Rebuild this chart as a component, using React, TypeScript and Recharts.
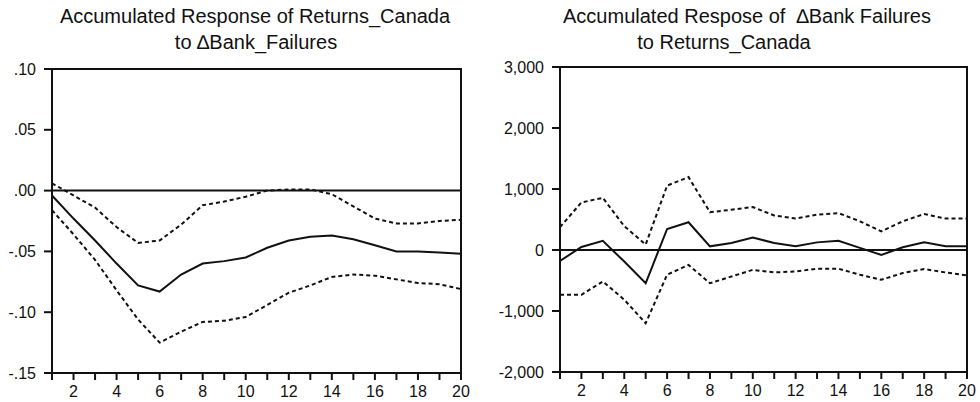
import React from "react";
import {
  LineChart,
  Line,
  XAxis,
  YAxis,
  ReferenceLine,
  ReferenceArea,
} from "recharts";

// forecast horizon (periods after the shock)
const periods = [1, 2, 3, 4, 5, 6, 7, 8, 9, 10, 11, 12, 13, 14, 15, 16, 17, 18, 19, 20];

// accumulated response of Returns_Canada to a ΔBank_Failures shock
const canadaIrf = [
  -0.004, -0.023, -0.041, -0.06, -0.078, -0.083, -0.069, -0.06, -0.058, -0.055,
  -0.047, -0.041, -0.038, -0.037, -0.04, -0.045, -0.05, -0.05, -0.051, -0.052,
];
const canadaUpper = [
  0.006, -0.004, -0.014, -0.03, -0.043, -0.041, -0.028, -0.012, -0.009, -0.005,
  0.0, 0.001, 0.001, -0.003, -0.013, -0.023, -0.027, -0.027, -0.025, -0.024,
];
const canadaLower = [
  -0.016, -0.036, -0.057, -0.082, -0.106, -0.125, -0.116, -0.108, -0.107, -0.104,
  -0.094, -0.084, -0.078, -0.071, -0.069, -0.07, -0.073, -0.076, -0.077, -0.081,
];

// accumulated response of ΔBank Failures to a Returns_Canada shock
const failuresIrf = [
  -180, 50, 150, -190, -545, 345, 455, 60, 115, 205,
  115, 60, 125, 150, 35, -80, 45, 125, 60, 60,
];
const failuresUpper = [
  375, 780, 855, 390, 90, 1055, 1195, 620, 660, 705,
  565, 515, 580, 605, 470, 305, 470, 590, 515, 515,
];
const failuresLower = [
  -735, -735, -515, -815, -1200, -405, -245, -545, -435, -325,
  -368, -352, -307, -307, -405, -488, -378, -312, -368, -417,
];

const canadaTicks = [-0.15, -0.1, -0.05, 0, 0.05, 0.1];
const failuresTicks = [-2000, -1000, 0, 1000, 2000, 3000];

const FONT = "'Liberation Sans', Arial, sans-serif";
const INK = "#111";

const canadaRows = periods.map((p, i) => ({
  period: p,
  irf: canadaIrf[i],
  upper: canadaUpper[i],
  lower: canadaLower[i],
}));

const failuresRows = periods.map((p, i) => ({
  period: p,
  irf: failuresIrf[i],
  upper: failuresUpper[i],
  lower: failuresLower[i],
}));

// EViews style: ".05", "-.10"
const fmtDecimal = (v: number) => {
  const s = Math.abs(v).toFixed(2).replace(/^0/, "");
  return v < 0 ? "-" + s : s;
};
const fmtThousands = (v: number) => v.toLocaleString("en-US");
const fmtPeriod = (v: number) => (v % 2 === 0 ? String(v) : "");

type PanelProps = {
  rows: any[];
  domain: [number, number];
  ticks: number[];
  fmt: (v: number) => string;
  yWidth: number;
  top: number;
  right: number;
  xHeight: number;
};

function IrfPanel({ rows, domain, ticks, fmt, yWidth, top, right, xHeight }: PanelProps) {
  const tickStyle = { fontSize: 16, fill: INK, fontFamily: FONT };
  return (
    <LineChart
      width={490}
      height={402}
      data={rows}
      margin={{ top, right, bottom: 0, left: 0 }}
    >
      <XAxis
        dataKey="period"
        type="number"
        domain={[1, 20]}
        allowDataOverflow
        ticks={periods}
        interval={0}
        tickFormatter={fmtPeriod}
        height={xHeight}
        tickSize={7}
        tickMargin={6}
        tick={tickStyle}
        stroke={INK}
        strokeWidth={2}
      />
      <YAxis
        type="number"
        domain={domain}
        allowDataOverflow
        ticks={ticks}
        interval={0}
        tickFormatter={fmt}
        width={yWidth}
        tickSize={8}
        tickMargin={8}
        tick={tickStyle}
        stroke={INK}
        strokeWidth={2}
      />
      {/* box round the plot area */}
      <ReferenceArea
        x1={1}
        x2={20}
        y1={domain[0]}
        y2={domain[1]}
        fill="none"
        stroke={INK}
        strokeWidth={2}
        fillOpacity={0}
      />
      <ReferenceLine y={0} stroke={INK} strokeWidth={2} />
      <Line
        dataKey="upper"
        stroke={INK}
        strokeWidth={2}
        strokeDasharray="4 3"
        dot={false}
        isAnimationActive={false}
      />
      <Line
        dataKey="lower"
        stroke={INK}
        strokeWidth={2}
        strokeDasharray="4 3"
        dot={false}
        isAnimationActive={false}
      />
      <Line
        dataKey="irf"
        stroke={INK}
        strokeWidth={2}
        dot={false}
        isAnimationActive={false}
      />
    </LineChart>
  );
}

const titleStyle: React.CSSProperties = {
  position: "absolute",
  fontFamily: FONT,
  fontSize: 20,
  color: INK,
  whiteSpace: "nowrap",
  lineHeight: "24px",
  transform: "translateX(-50%)",
};

export default function App() {
  return (
    <div
      style={{
        position: "absolute",
        left: 0,
        top: 0,
        width: 980,
        height: 402,
        background: "#fff",
        overflow: "hidden",
      }}
    >
      <div style={{ ...titleStyle, left: 255, top: 4 }}>
        Accumulated Response of Returns_Canada
      </div>
      <div style={{ ...titleStyle, left: 256, top: 30 }}>to ∆Bank_Failures</div>
      <div style={{ ...titleStyle, left: 747, top: 4 }}>
        Accumulated Respose of &nbsp;∆Bank Failures
      </div>
      <div style={{ ...titleStyle, left: 724, top: 30 }}>to Returns_Canada</div>

      <div style={{ position: "absolute", left: 0, top: 0 }}>
        <IrfPanel
          rows={canadaRows}
          domain={[-0.15, 0.1]}
          ticks={canadaTicks}
          fmt={fmtDecimal}
          yWidth={52}
          top={69}
          right={29}
          xHeight={29}
        />
      </div>
      <div style={{ position: "absolute", left: 490, top: 0 }}>
        <IrfPanel
          rows={failuresRows}
          domain={[-2000, 3000]}
          ticks={failuresTicks}
          fmt={fmtThousands}
          yWidth={70}
          top={67}
          right={13}
          xHeight={30}
        />
      </div>
    </div>
  );
}
